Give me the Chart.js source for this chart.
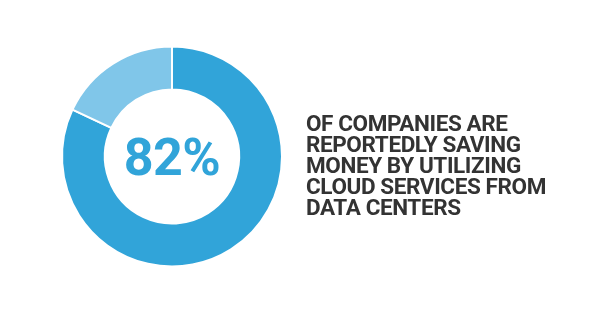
<!DOCTYPE html>
<html><head><meta charset="utf-8">
<script src="https://cdn.jsdelivr.net/npm/chart.js@4"></script>
<style>
html,body{margin:0;padding:0;background:#fff;}
#wrap{position:relative;width:600px;height:315px;}
#c{position:absolute;left:0;top:0;}
#center{position:absolute;left:72px;width:200px;top:128px;text-align:center;font-family:Roboto,sans-serif;font-weight:700;font-size:52px;line-height:60px;color:#31a4d9;letter-spacing:-0.5px;}
#txt{position:absolute;left:306px;top:113px;font-family:Roboto,sans-serif;font-weight:700;font-size:22.5px;line-height:21px;color:#333;letter-spacing:-0.4px;}
</style></head>
<body><div id="wrap"><canvas id="c" width="600" height="315"></canvas>
<div id="center"></div><div id="txt"></div></div>
<script>
const categories = ["Saving money", "Not saving"];
const values = [82, 18];
const centerLabel = "82%";
const textLines = ["OF COMPANIES ARE", "REPORTEDLY SAVING", "MONEY BY UTILIZING", "CLOUD SERVICES FROM", "DATA CENTERS"];

document.getElementById('center').textContent = centerLabel;
document.getElementById('txt').innerHTML = textLines.join('<br>');

new Chart(document.getElementById('c'), {
  type: 'doughnut',
  data: { labels: categories, datasets: [{ data: values, backgroundColor: ['#31a4d9', '#80c6e9'], borderColor: '#ffffff', borderWidth: 2, hoverOffset: 0 }] },
  options: {
    responsive: false, animation: false, cutout: '61%',
    layout: { padding: { left: 61, right: 317, top: 45, bottom: 47 } },
    plugins: { legend: { display: false }, tooltip: { enabled: false } }
  }
});
</script></body></html>
